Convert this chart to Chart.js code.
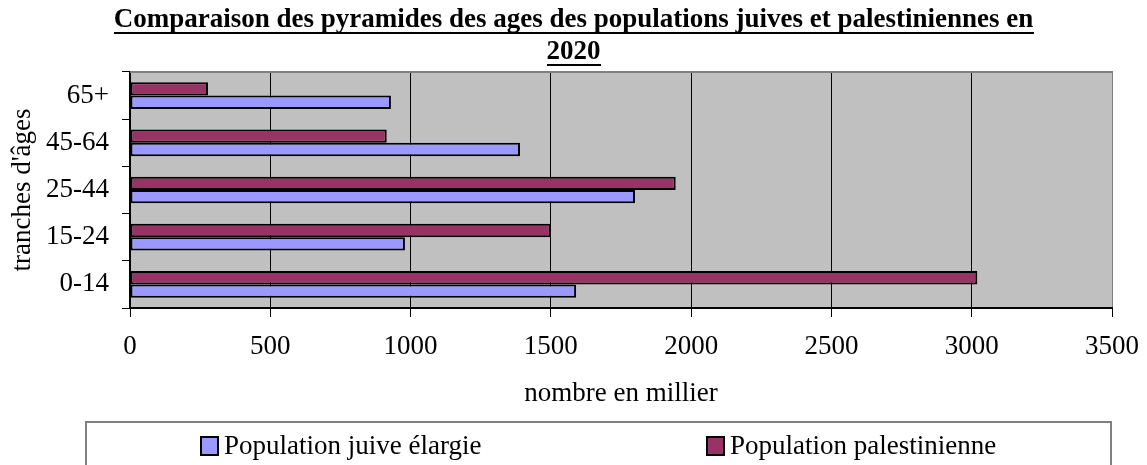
<!DOCTYPE html>
<html>
<head>
<meta charset="utf-8">
<script src="https://cdn.jsdelivr.net/npm/chart.js@4/dist/chart.umd.min.js"></script>
<style>
  body { margin: 0; background: #fff; }
  #wrap { width: 1147px; height: 465px; }
</style>
</head>
<body>
<div id="wrap"><canvas id="chart" width="1147" height="465"></canvas></div>
<script>
// data (milliers)
const categories = ['0-14', '15-24', '25-44', '45-64', '65+'];
const juive = [1590, 980, 1800, 1390, 930];
const palestinienne = [3020, 1500, 1945, 915, 278];
const seriesNames = ['Population juive élargie', 'Population palestinienne'];
const xMin = 0, xMax = 3500, xStep = 500;
const titleLines = ['Comparaison des pyramides des ages des populations juives et palestiniennes en', '2020'];

const FONT = "'Liberation Serif', 'Times New Roman', serif";
Chart.defaults.font.family = FONT;
Chart.defaults.font.size = 27;
Chart.defaults.color = '#000';

// grey plot area, frame, underlined title, boxed legend
const excelLook = {
    id: 'excelLook',
    beforeDraw(chart) {
        const a = chart.chartArea, ctx = chart.ctx;
        ctx.save();
        ctx.fillStyle = '#c0c0c0';
        ctx.fillRect(a.left, a.top, a.right - a.left, a.bottom - a.top);
        ctx.restore();
    },
    afterDraw(chart) {
        const a = chart.chartArea, ctx = chart.ctx;
        ctx.save();
        // top border of plot
        ctx.strokeStyle = '#808080';
        ctx.lineWidth = 2;
        ctx.beginPath();
        ctx.moveTo(a.left, a.top);
        ctx.lineTo(a.right + 1, a.top);
        ctx.stroke();

        // underline title
        const tb = chart.titleBlock;
        ctx.font = 'bold 27px ' + FONT;
        ctx.fillStyle = '#000';
        const cx = (tb.left + tb.right) / 2;
        titleLines.forEach((line, i) => {
            const w = ctx.measureText(line).width;
            const y = tb.top + 4 + 16 + i * 32 + 12;
            ctx.fillRect(Math.round(cx - w / 2), Math.round(y), Math.round(w), 2);
        });

        // legend box
        ctx.strokeStyle = '#808080';
        ctx.lineWidth = 2;
        ctx.strokeRect(86, 422, 1025, 60);
        ctx.font = '27px ' + FONT;
        ctx.textBaseline = 'middle';
        ctx.textAlign = 'left';
        const order = [1, 0]; // juive first, as in the reference
        const xs = [201, 707];
        order.forEach((di, k) => {
            const ds = chart.data.datasets[di];
            ctx.fillStyle = ds.backgroundColor;
            ctx.fillRect(xs[k], 437, 17, 18);
            ctx.strokeStyle = '#000';
            ctx.lineWidth = 2;
            ctx.strokeRect(xs[k], 437, 17, 18);
            ctx.fillStyle = '#000';
            ctx.fillText(ds.label, xs[k] + 23, 447);
        });
        ctx.restore();
    }
};

const ctx = document.getElementById('chart');
new Chart(ctx, {
    type: 'bar',
    data: {
        labels: categories,
        datasets: [{
            label: seriesNames[1],
            data: palestinienne,
            backgroundColor: '#993366',
            borderColor: '#000',
            borderWidth: 2,
            borderSkipped: false
        }, {
            label: seriesNames[0],
            data: juive,
            backgroundColor: '#9999ff',
            borderColor: '#000',
            borderWidth: 2,
            borderSkipped: false
        }]
    },
    options: {
        indexAxis: 'y',
        responsive: false,
        animation: false,
        devicePixelRatio: 1,
        layout: { padding: { top: 0, right: 0, bottom: 43, left: 0 } },
        datasets: { bar: { barPercentage: 1, categoryPercentage: 0.566 } },
        plugins: {
            legend: { display: false },
            tooltip: { enabled: false },
            title: {
                display: true,
                text: titleLines,
                font: { size: 27, weight: 'bold', lineHeight: 32 / 27 },
                color: '#000',
                padding: { top: 4, bottom: 4 }
            }
        },
        scales: {
            x: {
                min: xMin,
                max: xMax,
                ticks: { stepSize: xStep, padding: 14, font: { size: 27 }, callback: v => String(v) },
                grid: {
                    color: c => (c.tick && c.tick.value === xMax) ? '#808080' : '#000',
                    tickColor: '#000',
                    tickLength: 9,
                    lineWidth: 1
                },
                border: { color: '#000', width: 2 },
                title: { display: true, text: 'nombre en millier', font: { size: 27 }, padding: { top: 0, bottom: 12 } },
                afterFit(scale) {
                    scale.height = 114;
                    scale.paddingLeft = 0;
                    scale.paddingRight = 35;
                }
            },
            y: {
                reverse: true,
                ticks: { padding: 13, font: { size: 27 } },
                grid: { drawOnChartArea: false, tickColor: '#000', tickLength: 8, offset: true },
                border: { color: '#000', width: 2 },
                title: { display: true, text: "tranches d'âges", font: { size: 27 }, padding: { top: 7, bottom: 0 } },
                afterFit(scale) { scale.width = 130; }
            }
        }
    },
    plugins: [excelLook]
});
</script>
</body>
</html>
